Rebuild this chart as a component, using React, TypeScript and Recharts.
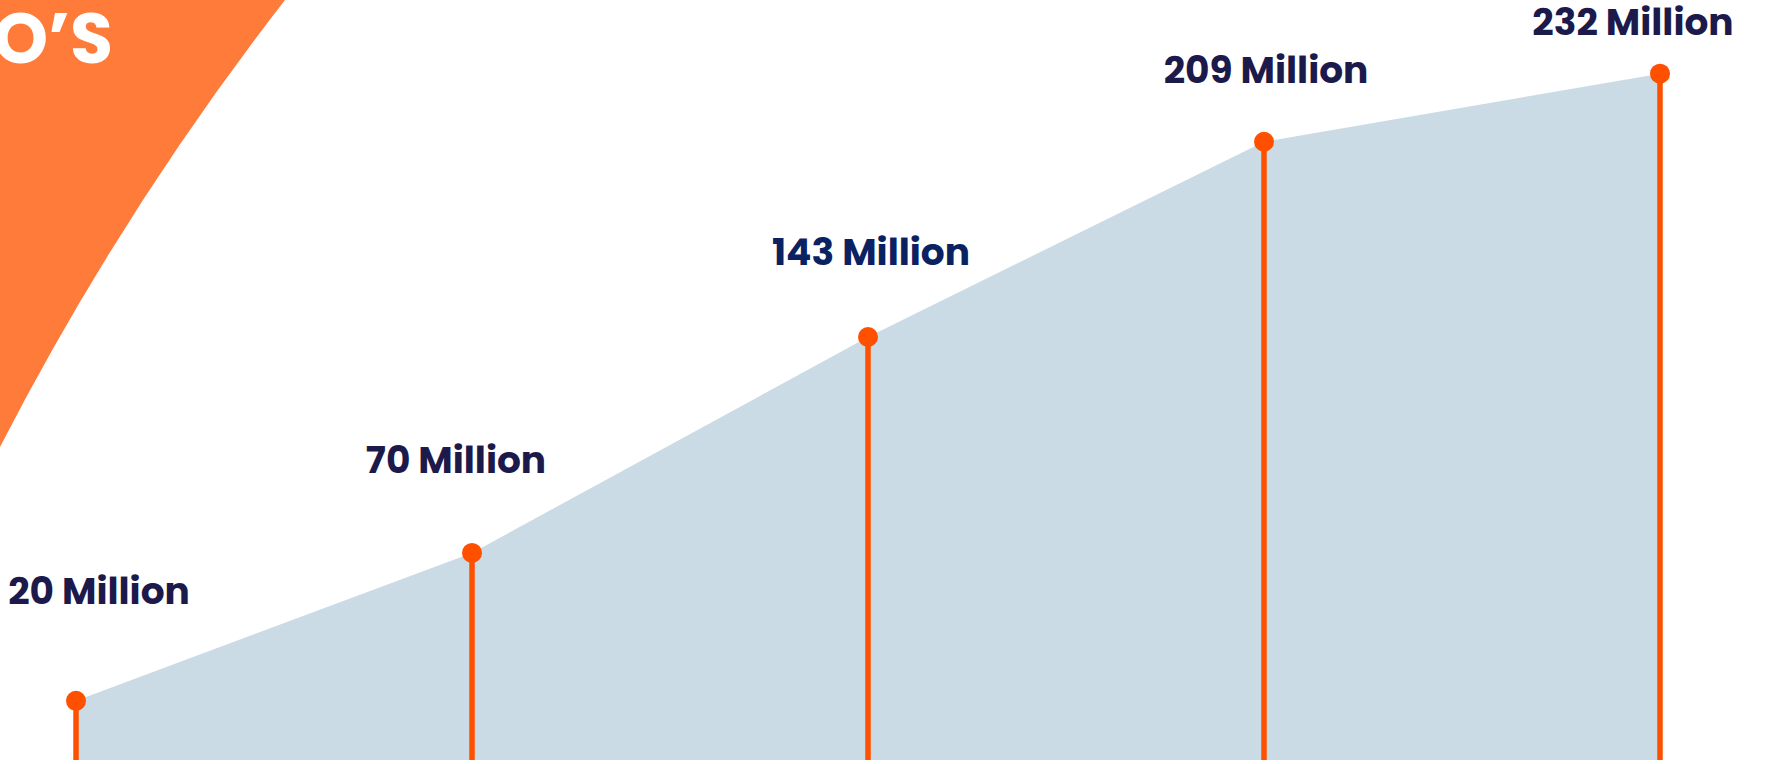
import { Area, AreaChart, LabelList, XAxis, YAxis } from "recharts";

// subscriber growth, one point per stage
const stages = ["Stage 1", "Stage 2", "Stage 3", "Stage 4", "Stage 5"];
const subscribers = [20, 70, 143, 209, 232];
const valueLabels = ["20 Million", "70 Million", "143 Million", "209 Million", "232 Million"];

const W = 1767;
const H = 764;
const MARGIN = { top: 50, right: 107, bottom: 4, left: 76 };
const BASE_Y = H - MARGIN.bottom;

const ORANGE = "#ff5000";
const AREA_FILL = "#cbdbe5";
const NAVY = "#1c1a4b";
const FONT = "Poppins, Inter, 'Noto Sans', sans-serif";

// hand placed offsets of the labels relative to their point
const LABEL_SHIFT = [
  { dx: 23, dy: -97 },
  { dx: -16, dy: -80 },
  { dx: 3, dy: -72 },
  { dx: 2, dy: -59 },
  { dx: -27, dy: -39 },
];
const LABEL_COLOR = [NAVY, NAVY, "#0b2262", NAVY, NAVY];

const data = stages.map((stage, i) => ({ stage, value: subscribers[i], label: valueLabels[i] }));

const StemDot = (props: any) => {
  const { cx, cy, index } = props;
  return (
    <g key={`stem-${index}`}>
      <line x1={cx} y1={cy} x2={cx} y2={BASE_Y} stroke={ORANGE} strokeWidth={5.5} />
      <circle cx={cx} cy={cy} r={10} fill={ORANGE} />
    </g>
  );
};

const ValueLabel = (props: any) => {
  const { x, y, index, value } = props;
  const shift = LABEL_SHIFT[index] ?? { dx: 0, dy: -60 };
  return (
    <text
      x={x + shift.dx}
      y={y + shift.dy}
      textAnchor="middle"
      fill={LABEL_COLOR[index] ?? NAVY}
      fontFamily={FONT}
      fontWeight={700}
      fontSize={37.5}
    >
      {value}
    </text>
  );
};

export default function App() {
  return (
    <div style={{ position: "absolute", left: 0, top: 0, width: W, height: H, overflow: "hidden", background: "#fff" }}>
      {/* decorative corner band behind the chart */}
      <svg width={W} height={H} style={{ position: "absolute", left: 0, top: 0 }}>
        <path d="M0,0 L285,0 A2866,2866 0 0 0 0,447 Z" fill="#ff7b3a" />
        <text x={113} y={63} textAnchor="end" fill="#fff" fontFamily={FONT} fontWeight={700} fontSize={70}>
          O’S
        </text>
      </svg>
      <div style={{ position: "absolute", left: 0, top: 0 }}>
        <AreaChart width={W} height={H} data={data} margin={MARGIN}>
          <XAxis dataKey="stage" hide />
          <YAxis domain={[0, 240]} hide />
          <Area
            type="linear"
            dataKey="value"
            stroke="none"
            fill={AREA_FILL}
            fillOpacity={1}
            dot={<StemDot />}
            activeDot={false}
            isAnimationActive={false}
          >
            <LabelList dataKey="label" content={<ValueLabel />} />
          </Area>
        </AreaChart>
      </div>
    </div>
  );
}
